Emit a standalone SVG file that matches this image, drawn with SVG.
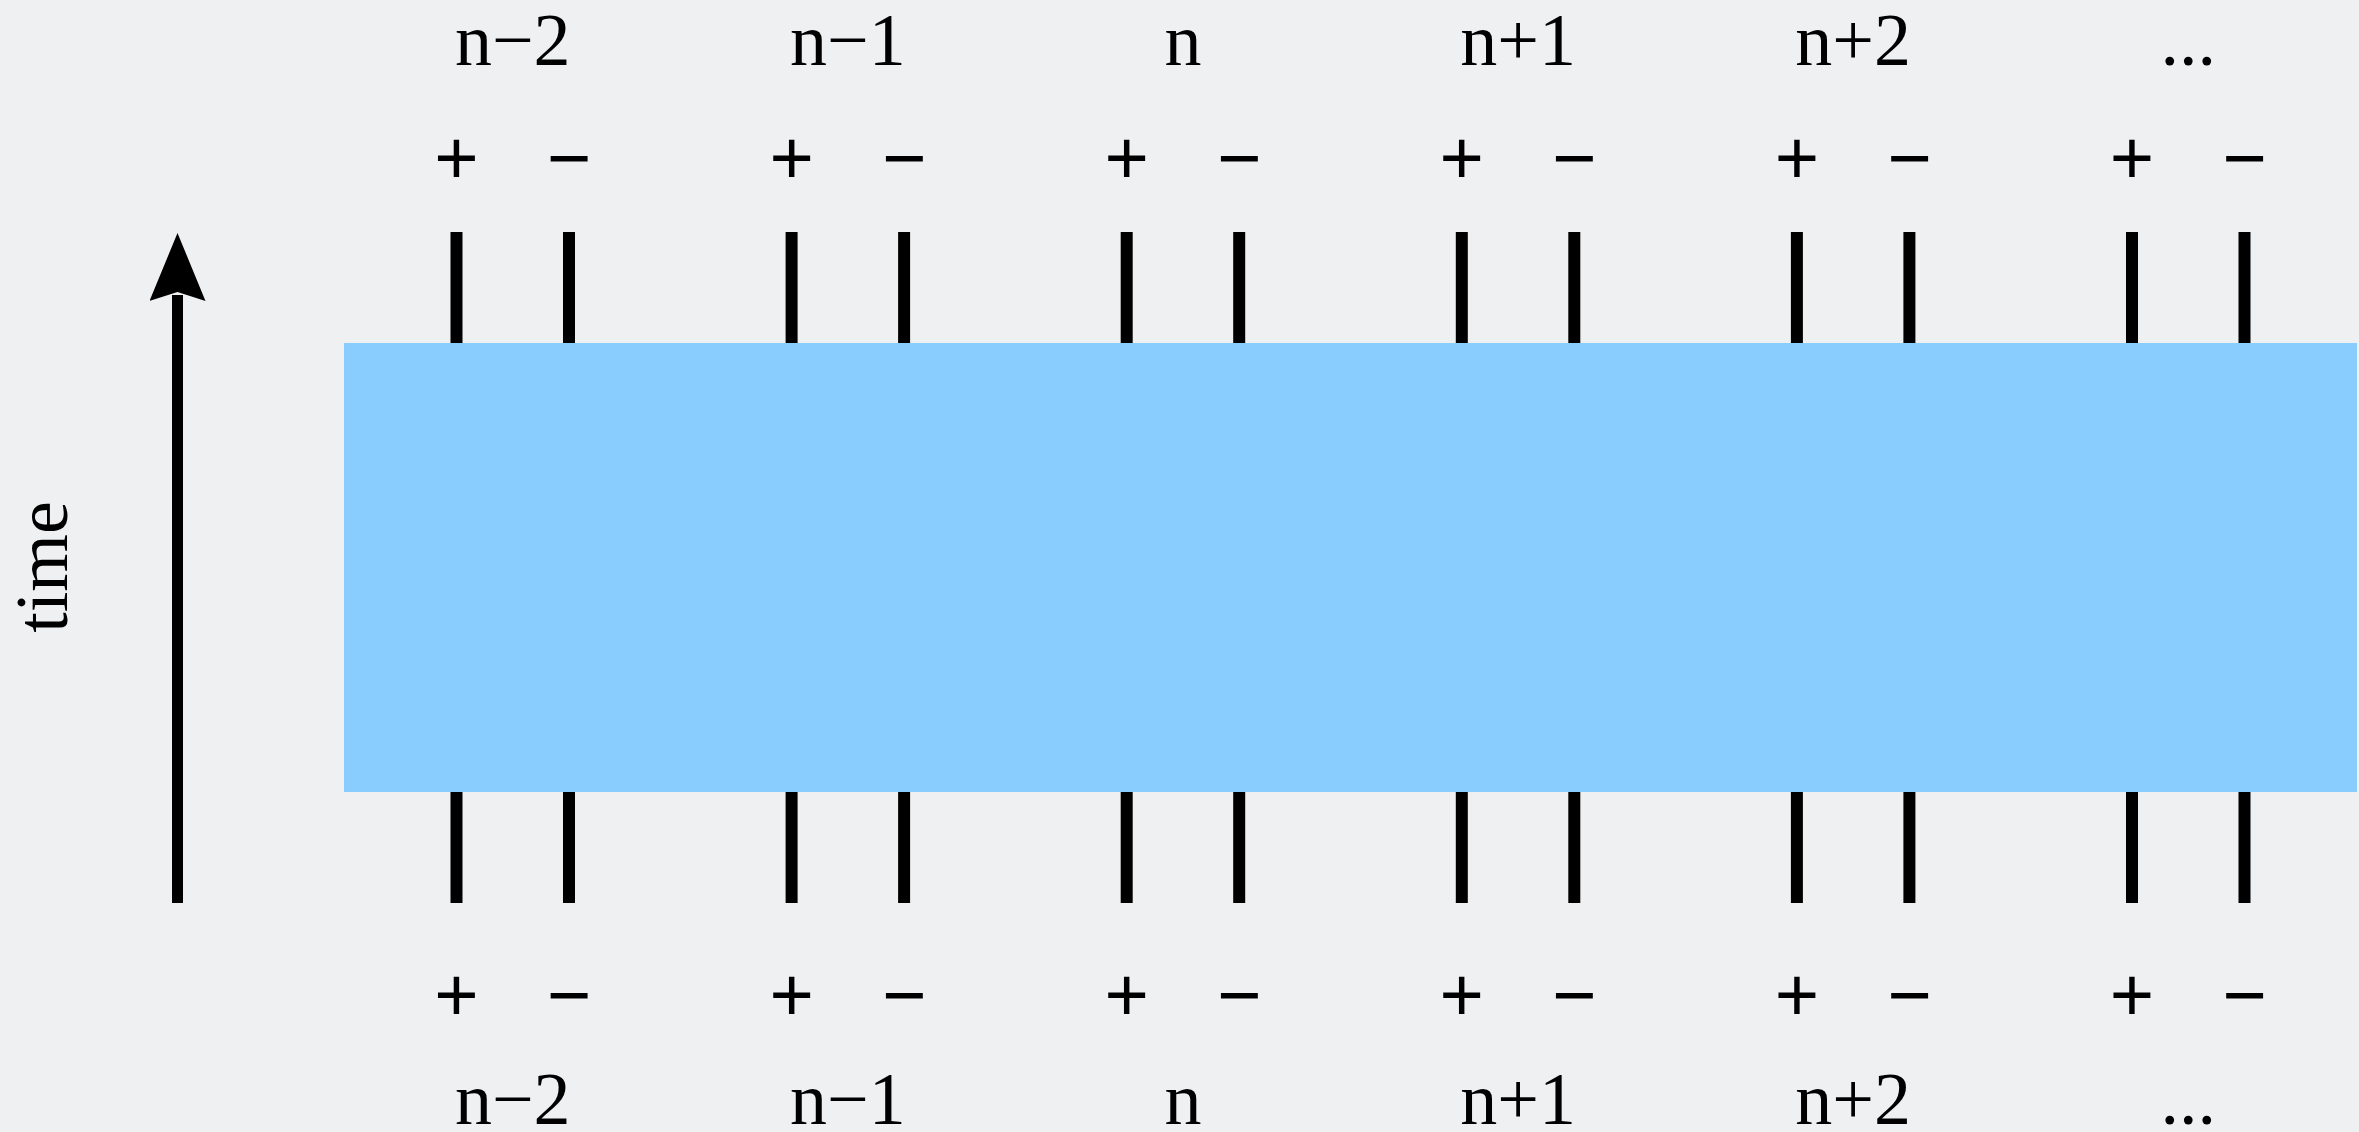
<svg xmlns="http://www.w3.org/2000/svg" width="2359" height="1132" viewBox="0 0 2359 1132">
  <style>
    .t { font-family: "Liberation Serif", "Times New Roman", serif; font-size: 74px; fill: #000; text-anchor: middle; }
    .s { font-family: "Liberation Sans", Arial, sans-serif; font-size: 76px; fill: #000; text-anchor: middle; }
    .bar { stroke: #000; stroke-width: 12; fill: none; }
    .arrow { stroke: #000; stroke-width: 11; fill: none; }
  </style>
  <defs>
    <marker id="ah" markerUnits="userSpaceOnUse" viewBox="0 0 68 56" markerWidth="68" markerHeight="56" refX="6" refY="28" orient="auto">
      <path d="M68,28 L0,0 L9,28 L0,56 Z" fill="#000"/>
    </marker>
  </defs>
  <rect x="0" y="0" width="2359" height="1132" fill="#EFF0F2"/>

  <g id="region">
    <rect x="344" y="343" width="2013" height="449" fill="#88CDFE"/>
  </g>

  <g id="connectors">
    <line class="arrow" x1="177.5" y1="903" x2="177.5" y2="295" marker-end="url(#ah)"/>
  </g>

  <g id="time-label">
    <text class="t" transform="translate(67,567) rotate(-90)">time</text>
  </g>

  <g id="col-n-2">
    <text class="t" x="512.75" y="65">n−2</text>
    <text class="s" x="456.5" y="184">+</text>
    <text class="s" x="569" y="184">−</text>
    <line class="bar" x1="456.5" y1="232" x2="456.5" y2="343"/>
    <line class="bar" x1="569" y1="232" x2="569" y2="343"/>
    <line class="bar" x1="456.5" y1="792" x2="456.5" y2="903"/>
    <line class="bar" x1="569" y1="792" x2="569" y2="903"/>
    <text class="s" x="456.5" y="1021">+</text>
    <text class="s" x="569" y="1021">−</text>
    <text class="t" x="512.75" y="1124">n−2</text>
  </g>

  <g id="col-n-1">
    <text class="t" x="847.85" y="65">n−1</text>
    <text class="s" x="791.6" y="184">+</text>
    <text class="s" x="904.1" y="184">−</text>
    <line class="bar" x1="791.6" y1="232" x2="791.6" y2="343"/>
    <line class="bar" x1="904.1" y1="232" x2="904.1" y2="343"/>
    <line class="bar" x1="791.6" y1="792" x2="791.6" y2="903"/>
    <line class="bar" x1="904.1" y1="792" x2="904.1" y2="903"/>
    <text class="s" x="791.6" y="1021">+</text>
    <text class="s" x="904.1" y="1021">−</text>
    <text class="t" x="847.85" y="1124">n−1</text>
  </g>

  <g id="col-n">
    <text class="t" x="1182.95" y="65">n</text>
    <text class="s" x="1126.7" y="184">+</text>
    <text class="s" x="1239.2" y="184">−</text>
    <line class="bar" x1="1126.7" y1="232" x2="1126.7" y2="343"/>
    <line class="bar" x1="1239.2" y1="232" x2="1239.2" y2="343"/>
    <line class="bar" x1="1126.7" y1="792" x2="1126.7" y2="903"/>
    <line class="bar" x1="1239.2" y1="792" x2="1239.2" y2="903"/>
    <text class="s" x="1126.7" y="1021">+</text>
    <text class="s" x="1239.2" y="1021">−</text>
    <text class="t" x="1182.95" y="1124">n</text>
  </g>

  <g id="col-n+1">
    <text class="t" x="1518.05" y="65">n+1</text>
    <text class="s" x="1461.8" y="184">+</text>
    <text class="s" x="1574.3" y="184">−</text>
    <line class="bar" x1="1461.8" y1="232" x2="1461.8" y2="343"/>
    <line class="bar" x1="1574.3" y1="232" x2="1574.3" y2="343"/>
    <line class="bar" x1="1461.8" y1="792" x2="1461.8" y2="903"/>
    <line class="bar" x1="1574.3" y1="792" x2="1574.3" y2="903"/>
    <text class="s" x="1461.8" y="1021">+</text>
    <text class="s" x="1574.3" y="1021">−</text>
    <text class="t" x="1518.05" y="1124">n+1</text>
  </g>

  <g id="col-n+2">
    <text class="t" x="1853.15" y="65">n+2</text>
    <text class="s" x="1796.9" y="184">+</text>
    <text class="s" x="1909.4" y="184">−</text>
    <line class="bar" x1="1796.9" y1="232" x2="1796.9" y2="343"/>
    <line class="bar" x1="1909.4" y1="232" x2="1909.4" y2="343"/>
    <line class="bar" x1="1796.9" y1="792" x2="1796.9" y2="903"/>
    <line class="bar" x1="1909.4" y1="792" x2="1909.4" y2="903"/>
    <text class="s" x="1796.9" y="1021">+</text>
    <text class="s" x="1909.4" y="1021">−</text>
    <text class="t" x="1853.15" y="1124">n+2</text>
  </g>

  <g id="col-more">
    <text class="t" x="2188.25" y="65">...</text>
    <text class="s" x="2132" y="184">+</text>
    <text class="s" x="2244.5" y="184">−</text>
    <line class="bar" x1="2132" y1="232" x2="2132" y2="343"/>
    <line class="bar" x1="2244.5" y1="232" x2="2244.5" y2="343"/>
    <line class="bar" x1="2132" y1="792" x2="2132" y2="903"/>
    <line class="bar" x1="2244.5" y1="792" x2="2244.5" y2="903"/>
    <text class="s" x="2132" y="1021">+</text>
    <text class="s" x="2244.5" y="1021">−</text>
    <text class="t" x="2188.25" y="1124">...</text>
  </g>
</svg>
